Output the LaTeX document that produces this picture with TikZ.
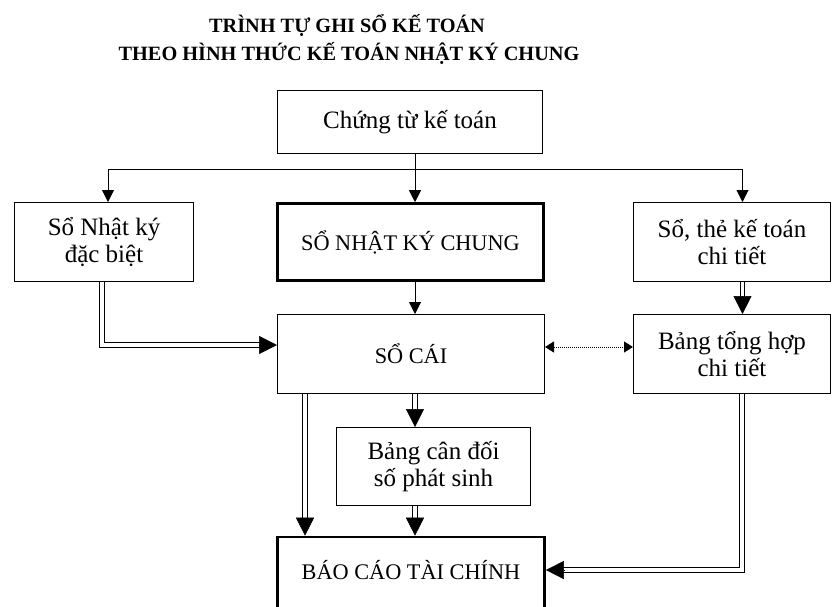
\documentclass[tikz,border=0pt]{standalone}
\usepackage{fontspec}
\setmainfont{Liberation Serif}
\usetikzlibrary{arrows.meta}
\begin{document}
\begin{tikzpicture}[x=1pt,y=-1pt,
  box/.style={draw, line width=1pt, inner sep=0pt, align=center,
    font=\fontsize{25}{27}\selectfont},
  capbox/.style={box, font=\fontsize{22.3}{26}\selectfont},
  heavybox/.style={capbox, line width=2.6pt},
  headline/.style={anchor=base, font=\bfseries\fontsize{20.3}{24}\selectfont},
  plain/.style={line width=1pt},
  link/.style={line width=1pt, -{Triangle[length=12pt,width=12pt]}},
  dbl/.style={double, double distance=3.2pt, line width=1pt, shorten >=16pt},
  bigtip/.style={line width=0.5pt, -{Triangle[length=18pt,width=18pt]}},
  dotlink/.style={line width=1pt, dash pattern=on 1pt off 1pt,
    {Triangle[length=9pt,width=11pt]}-{Triangle[length=9pt,width=11pt]}},
]
\useasboundingbox (0,0) rectangle (833,606);
\clip (0,0) rectangle (833,606);

% heading
\node[headline] (title1) at (347,32.5) {TRÌNH TỰ GHI SỔ KẾ TOÁN};
\node[headline] (title2) at (349,60.5) {THEO HÌNH THỨC KẾ TOÁN NHẬT KÝ CHUNG};

% boxes
\node[box, minimum width=265pt, minimum height=63pt] (ctkt) at (410,122) {Chứng từ kế toán};
\node[box, minimum width=179pt, minimum height=79pt] (snkdb) at (104,242) {Sổ Nhật ký\\đặc biệt};
\node[heavybox, minimum width=266pt, minimum height=77pt] (snkc) at (410.5,242) {SỔ NHẬT KÝ CHUNG};
\node[box, minimum width=197pt, minimum height=79pt] (sctk) at (732,242) {Sổ, thẻ kế toán\\chi tiết};
\node[capbox, minimum width=267pt, minimum height=79pt] (socai) at (411,354) {SỔ CÁI};
\node[box, minimum width=197pt, minimum height=79pt] (bth) at (732,354) {Bảng tổng hợp\\chi tiết};
\node[box, minimum width=194pt, minimum height=78pt] (bcd) at (433.5,466.5) {Bảng cân đối\\số phát sinh};
\node[heavybox, minimum width=267pt, minimum height=74pt, text depth=8pt] (bctc) at (411,574) {BÁO CÁO TÀI CHÍNH};

% distribution bus below the source documents
\coordinate (busL) at (108,169);
\coordinate (busM) at (415,169);
\coordinate (busR) at (742.5,169);
\draw[plain] (busM |- ctkt.south) -- (busM);
\draw[plain] (busL) -- (busR);
\draw[link] (busL) -- (busL |- snkdb.north);
\draw[link] (busM) -- (busM |- snkc.north);
\draw[link] (busR) -- (busR |- sctk.north);

% journal to ledger
\draw[link] (busM |- snkc.south) -- (busM |- socai.north);

% special journal to ledger
\coordinate (elbowL) at (102,345);
\draw[dbl] (elbowL |- snkdb.south) -- (elbowL) -- (elbowL -| socai.west);
\draw[bigtip] ([xshift=-18pt]elbowL -| socai.west) -- (elbowL -| socai.west);

% detail books to detail summary
\draw[dbl] (busR |- sctk.south) -- (busR |- bth.north);
\draw[bigtip] ([yshift=18pt]busR |- bth.north) -- (busR |- bth.north);

% ledger <-> detail summary
\draw[dotlink] ([yshift=7pt]socai.east) -- ([yshift=7pt]bth.west);

% ledger to trial balance
\draw[dbl] (busM |- socai.south) -- (busM |- bcd.north);
\draw[bigtip] ([yshift=18pt]busM |- bcd.north) -- (busM |- bcd.north);

% ledger to financial statements
\coordinate (colL) at (305,400);
\draw[dbl] (colL |- socai.south) -- (colL |- bctc.north);
\draw[bigtip] ([yshift=18pt]colL |- bctc.north) -- (colL |- bctc.north);

% trial balance to financial statements
\draw[dbl] (busM |- bcd.south) -- (busM |- bctc.north);
\draw[bigtip] ([yshift=18pt]busM |- bctc.north) -- (busM |- bctc.north);

% detail summary to financial statements
\coordinate (elbowR) at (742,570);
\draw[dbl] (elbowR |- bth.south) -- (elbowR) -- (elbowR -| bctc.east);
\draw[bigtip] ([xshift=18pt]elbowR -| bctc.east) -- (elbowR -| bctc.east);
\end{tikzpicture}
\end{document}
